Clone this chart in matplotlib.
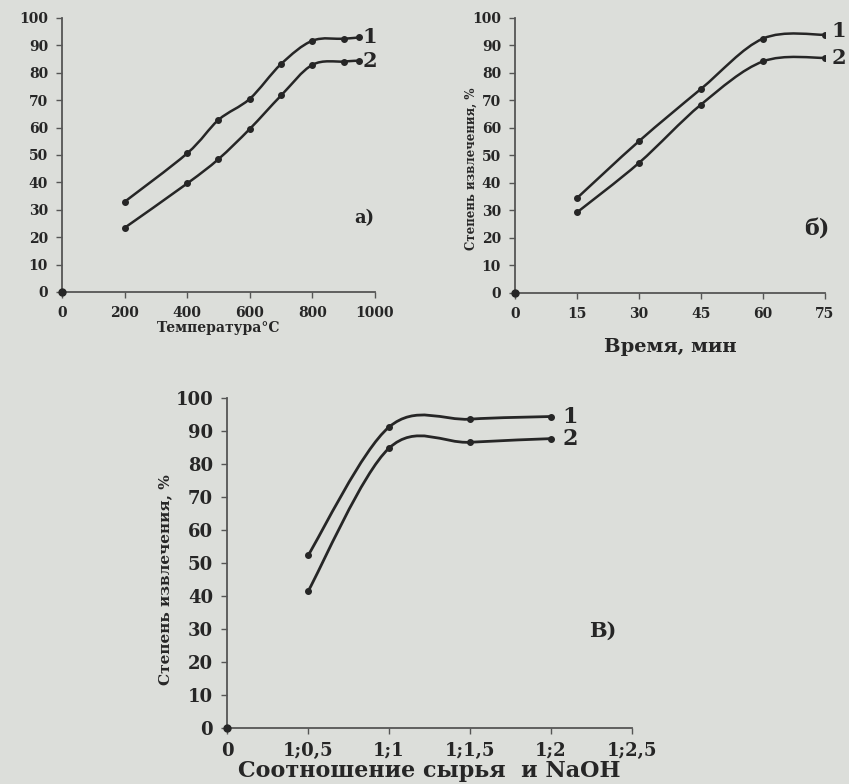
import numpy as np
import matplotlib.pyplot as plt
from matplotlib.path import Path
from matplotlib.patches import PathPatch

# --- data ---
temp = [200, 400, 500, 600, 700, 800, 900, 950]
temp_s1 = [32.9, 50.6, 62.8, 70.5, 83.2, 91.7, 92.4, 92.9]
temp_s2 = [23.4, 39.6, 48.5, 59.5, 71.7, 82.9, 84.1, 84.4]

time_min = [15, 30, 45, 60, 75]
time_s1 = [34.5, 55.2, 74.2, 92.5, 93.9]
time_s2 = [29.3, 47.3, 68.5, 84.2, 85.5]

ratio = [0.5, 1.0, 1.5, 2.0]
ratio_s1 = [52.3, 91.2, 93.6, 94.4]
ratio_s2 = [41.4, 84.8, 86.6, 87.7]
ratio_ticks = [0, 0.5, 1.0, 1.5, 2.0, 2.5]
ratio_labels = ['0', '1;0,5', '1;1', '1;1,5', '1;2', '1;2,5']

BG = '#dcdeda'
INK = '#262626'
SERIF = 'DejaVu Serif'


def smooth_line(ax, x, y, lw=1.8):
    """Excel-like smoothed line: Catmull-Rom converted to cubic Bezier."""
    pts = np.column_stack([x, y]).astype(float)
    n = len(pts)
    verts = [pts[0]]
    codes = [Path.MOVETO]
    for i in range(n - 1):
        p0 = pts[i - 1] if i > 0 else pts[i]
        p1 = pts[i]
        p2 = pts[i + 1]
        p3 = pts[i + 2] if i + 2 < n else pts[i + 1]
        c1 = p1 + (p2 - p0) / 6.0
        c2 = p2 - (p3 - p1) / 6.0
        verts += [c1, c2, p2]
        codes += [Path.CURVE4] * 3
    ax.add_patch(PathPatch(Path(verts, codes), facecolor='none',
                           edgecolor=INK, lw=lw, zorder=3))
    ax.plot(x, y, 'o', color=INK, ms=4, zorder=4)


def style_axes(ax, fs):
    ax.set_facecolor('none')
    for side in ('top', 'right'):
        ax.spines[side].set_visible(False)
    for side in ('left', 'bottom'):
        ax.spines[side].set_color('#555555')
        ax.spines[side].set_linewidth(1.3)
    ax.tick_params(direction='out', length=4, width=1, colors='#555555',
                   labelcolor=INK, pad=6)
    ax.set_ylim(0, 100)
    ax.set_yticks(range(0, 101, 10))
    for lab in ax.get_xticklabels() + ax.get_yticklabels():
        lab.set_fontfamily(SERIF)
        lab.set_fontweight('bold')
        lab.set_fontsize(fs)
    ax.plot([0], [0], 'o', color=INK, ms=5, clip_on=False, zorder=5)


fig = plt.figure(figsize=(8.49, 7.84), dpi=100)
fig.patch.set_facecolor(BG)

# --- a) temperature ---
ax1 = fig.add_axes([0.0730, 0.6276, 0.3687, 0.3495])
smooth_line(ax1, temp, temp_s1)
smooth_line(ax1, temp, temp_s2)
ax1.set_xlim(0, 1000)
ax1.set_xticks(range(0, 1001, 200))
style_axes(ax1, 10)
ax1.set_xlabel('Температура°С', fontfamily=SERIF, fontweight='bold',
               fontsize=10, color=INK, labelpad=1)
ax1.text(960, temp_s1[-1], '1', fontfamily=SERIF, fontweight='bold',
         fontsize=15, color=INK, va='center')
ax1.text(960, temp_s2[-1], '2', fontfamily=SERIF, fontweight='bold',
         fontsize=15, color=INK, va='center')
ax1.text(965, 27, 'а)', fontfamily=SERIF, fontweight='bold',
         fontsize=13, color=INK, ha='center', va='center')

# --- б) time ---
ax2 = fig.add_axes([0.6066, 0.6263, 0.3651, 0.3508])
smooth_line(ax2, time_min, time_s1)
smooth_line(ax2, time_min, time_s2)
ax2.set_xlim(0, 75)
ax2.set_xticks(range(0, 76, 15))
style_axes(ax2, 10)
ax2.set_xlabel('Время, мин', fontfamily=SERIF, fontweight='bold',
               fontsize=14, color=INK, labelpad=12)
ax2.set_ylabel('Степень извлечения, %', fontfamily=SERIF, fontweight='bold',
               fontsize=8.5, color=INK, labelpad=0)
ax2.yaxis.set_label_coords(-0.12, 0.45)
ax2.text(76.5, time_s1[-1] + 1.5, '1', fontfamily=SERIF, fontweight='bold',
         fontsize=15, color=INK, va='center', clip_on=False)
ax2.text(76.5, time_s2[-1], '2', fontfamily=SERIF, fontweight='bold',
         fontsize=15, color=INK, va='center', clip_on=False)
ax2.text(73, 23, 'б)', fontfamily=SERIF, fontweight='bold',
         fontsize=16, color=INK, ha='center', va='center')

# --- в) ratio ---
ax3 = fig.add_axes([0.2674, 0.0714, 0.4770, 0.4209])
smooth_line(ax3, ratio, ratio_s1, lw=2.0)
smooth_line(ax3, ratio, ratio_s2, lw=2.0)
ax3.set_xlim(0, 2.5)
ax3.set_xticks(ratio_ticks)
ax3.set_xticklabels(ratio_labels)
style_axes(ax3, 13)
ax3.set_xlabel('Соотношение сырья  и NaOH', fontfamily=SERIF,
               fontweight='bold', fontsize=16, color=INK, labelpad=0)
ax3.set_ylabel('Степень извлечения, %', fontfamily=SERIF, fontweight='bold',
               fontsize=11, color=INK, labelpad=2)
ax3.yaxis.set_label_coords(-0.135, 0.45)
ax3.text(2.07, ratio_s1[-1], '1', fontfamily=SERIF, fontweight='bold',
         fontsize=16, color=INK, va='center')
ax3.text(2.07, ratio_s2[-1], '2', fontfamily=SERIF, fontweight='bold',
         fontsize=16, color=INK, va='center')
ax3.text(2.32, 29.5, 'В)', fontfamily=SERIF, fontweight='bold',
         fontsize=15, color=INK, ha='center', va='center')

fig.savefig('out.png', dpi=100, facecolor=BG)
